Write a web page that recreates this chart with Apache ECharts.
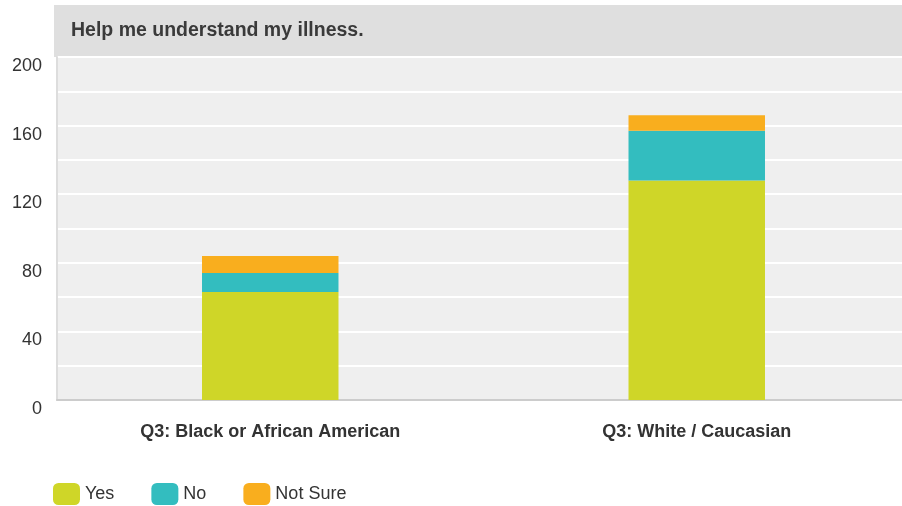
<!DOCTYPE html>
<html><head><meta charset="utf-8">
<script src="https://cdn.jsdelivr.net/npm/echarts@6/dist/echarts.min.js"></script>
<style>html,body{margin:0;padding:0;background:#fff}#c{width:902px;height:506px}</style>
</head><body><div id="c"></div>
<script>
const title = 'Help me understand my illness.';
const categories = ['Q3: Black or African American', 'Q3: White / Caucasian'];
const seriesNames = ['Yes', 'No', 'Not Sure'];
const yesValues = [63, 128];
const noValues = [11, 29];
const notSureValues = [10, 9];
const colors = ['#cfd628', '#33bdbf', '#f9ae1e'];

const chart = echarts.init(document.getElementById('c'), null, {renderer: 'canvas'});
const FONT = '"Liberation Sans", Arial, Helvetica, sans-serif';
const dataSets = [yesValues, noValues, notSureValues];
chart.setOption({
  animation: false,
  textStyle: {fontFamily: FONT},
  graphic: [
    {type: 'rect', left: 54, top: 5, shape: {width: 848, height: 52}, style: {fill: '#dfdfdf'}, z: -1},
    {type: 'text', left: 71, top: 21, style: {text: title, font: 'bold 19.5px ' + FONT, fill: '#3a3a3a'}}
  ],
  grid: {left: 57, top: 57, bottom: 106, width: 853, outerBoundsMode: 'none', show: true, backgroundColor: '#efefef', borderWidth: 0, containLabel: false},
  legend: {
    left: 53, top: 483, padding: 0, itemWidth: 27, itemHeight: 22, itemGap: 37,
    icon: 'roundRect',
    textStyle: {fontSize: 18, color: '#333', fontFamily: FONT},
    data: seriesNames
  },
  xAxis: {
    type: 'category', data: categories,
    axisLine: {show: true, lineStyle: {color: '#cccccc', width: 2}},
    axisTick: {show: false},
    axisLabel: {fontSize: 18, fontWeight: 'bold', color: '#333', margin: 23, fontFamily: FONT}
  },
  yAxis: {
    type: 'value', min: 0, max: 200, interval: 20,
    axisLine: {show: true, lineStyle: {color: '#dddddd', width: 2}},
    axisTick: {show: false},
    splitLine: {show: true, lineStyle: {color: '#ffffff', width: 2}},
    axisLabel: {
      fontSize: 18, color: '#333', margin: 15, fontFamily: FONT,
      verticalAlign: 'top', lineHeight: 18,
      formatter: v => (v % 40 === 0 ? String(v) : '')
    }
  },
  series: seriesNames.map((n, i) => ({
    name: n, type: 'bar', stack: 'total', barWidth: '32%',
    itemStyle: {color: colors[i]},
    data: dataSets[i]
  }))
});
</script></body></html>
